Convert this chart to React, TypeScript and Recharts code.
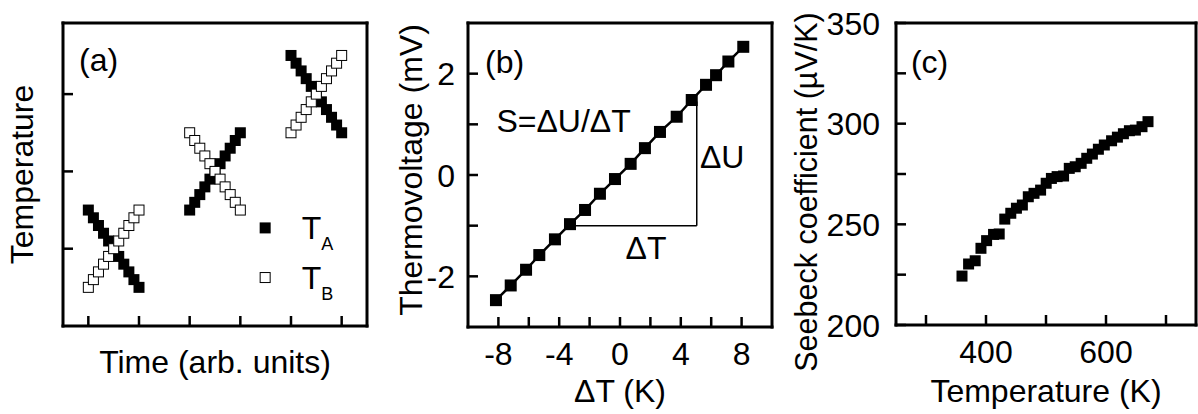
import React from 'react';
import { ScatterChart, Scatter, XAxis, YAxis, ReferenceLine, ReferenceDot } from 'recharts';

// (a) temperature of both sample ends during three gradient sweeps
const sweepTime1 = [0.5, 0.6, 0.7, 0.8, 0.9, 1.0, 1.1, 1.2, 1.3, 1.4, 1.5];
const sweepTime2 = [2.5, 2.6, 2.7, 2.8, 2.9, 3.0, 3.1, 3.2, 3.3, 3.4, 3.5];
const sweepTime3 = [4.5, 4.6, 4.7, 4.8, 4.9, 5.0, 5.1, 5.2, 5.3, 5.4, 5.5];
const tempA1 = [1.5, 1.4, 1.3, 1.2, 1.1, 1.0, 0.9, 0.8, 0.7, 0.6, 0.5];
const tempB1 = [0.5, 0.6, 0.7, 0.8, 0.9, 1.0, 1.1, 1.2, 1.3, 1.4, 1.5];
const tempA2 = [1.5, 1.6, 1.7, 1.8, 1.9, 2.0, 2.1, 2.2, 2.3, 2.4, 2.5];
const tempB2 = [2.5, 2.4, 2.3, 2.2, 2.1, 2.0, 1.9, 1.8, 1.7, 1.6, 1.5];
const tempA3 = [3.5, 3.4, 3.3, 3.2, 3.1, 3.0, 2.9, 2.8, 2.7, 2.6, 2.5];
const tempB3 = [2.5, 2.6, 2.7, 2.8, 2.9, 3.0, 3.1, 3.2, 3.3, 3.4, 3.5];
const timeTicks = [0.5, 1.5, 2.5, 3.5, 4.5, 5.5];
const tempTicks = [1, 2, 3];

// (b) thermovoltage vs temperature difference
const deltaT = [-8.16, -7.19, -6.18, -5.31, -4.28, -3.29, -2.3, -1.32, -0.33, 0.7, 1.64, 2.63, 3.73, 4.72, 5.66, 6.32, 7.13, 8.11];
const thermoU = [-2.47, -2.18, -1.87, -1.58, -1.27, -0.97, -0.69, -0.37, -0.08, 0.22, 0.53, 0.85, 1.15, 1.48, 1.78, 1.97, 2.24, 2.53];
const dtTicks = [-8, -6, -4, -2, 0, 2, 4, 6, 8];
const dtLabels = [-8, -4, 0, 4, 8];
const uTicks = [-2, -1, 0, 1, 2];
const uLabels = [-2, 0, 2];

// (c) Seebeck coefficient vs temperature
const seebeckT = [360, 371, 382, 391.6, 401, 412.6, 422, 431.3, 441.3, 450.7, 460.6, 470.5, 480, 491, 500.3, 509, 518.5, 529.3, 538.8, 548.7, 558.6, 567.9, 577.3, 587.3, 597.2, 609.3, 619, 629, 639, 649, 660, 670];
const seebeckS = [224.3, 230.3, 231.9, 238.1, 241.9, 245, 245.2, 252.6, 255.5, 258, 259.6, 263.7, 265.4, 267, 270.4, 272.8, 273.7, 274, 277.8, 278.6, 280.3, 282.8, 284.9, 287.3, 289.4, 291.5, 293.3, 295, 296.5, 296.8, 298.5, 301];
const tempKTicks = [300, 400, 500, 600, 700];
const tempKLabels = [400, 600];
const sTicks = [200, 225, 250, 275, 300, 325, 350];
const sLabels = [200, 250, 300, 350];

const FONT = '"Liberation Sans", Arial, Helvetica, sans-serif';
const TICK_LEN = 10;
const frameLine = { stroke: '#000', strokeWidth: 3, strokeLinecap: 'square' as const };

const pts = (xs: number[], ys: number[]) => xs.map((x, i) => ({ x, y: ys[i] }));

type Side = 'bottom' | 'top' | 'left' | 'right';

function makeTick(side: Side, labelled: number[] = [], gap = 0) {
  return function Tick(props: any) {
    const { x, y, payload } = props;
    const v = payload.value as number;
    const dx = side === 'left' ? TICK_LEN : side === 'right' ? -TICK_LEN : 0;
    const dy = side === 'bottom' ? -TICK_LEN : side === 'top' ? TICK_LEN : 0;
    const show = labelled.includes(v);
    return (
      <g>
        <line x1={x} y1={y} x2={x + dx} y2={y + dy} stroke="#000" strokeWidth={2.5} />
        {show && side === 'bottom' && (
          <text x={x} y={y + gap} textAnchor="middle" fontFamily={FONT} fontSize={32} fill="#000">
            {v}
          </text>
        )}
        {show && side === 'left' && (
          <text x={x - gap} y={y} dy="0.36em" textAnchor="end" fontFamily={FONT} fontSize={32} fill="#000">
            {v}
          </text>
        )}
      </g>
    );
  };
}

// axis boxes are 1px thick, so titles are measured from the plot edge
const xTitle = (text: string, gap: number) => (p: any) => {
  const vb = p.viewBox;
  return (
    <text x={vb.x + vb.width / 2} y={vb.y + gap} textAnchor="middle" fontFamily={FONT} fontSize={32} fill="#000">
      {text}
    </text>
  );
};

const yTitle = (text: string, gap: number, shift: number, size = 32) => (p: any) => {
  const vb = p.viewBox;
  const cx = vb.x + vb.width - gap;
  const cy = vb.y + vb.height / 2 + shift;
  return (
    <text x={cx} y={cy} transform={`rotate(-90 ${cx} ${cy})`} textAnchor="middle" fontFamily={FONT} fontSize={size} fill="#000">
      {text}
    </text>
  );
};

const annot = (text: string, anchor: 'start' | 'middle' = 'start') => (p: any) => (
  <text x={p.cx} y={p.cy} textAnchor={anchor} fontFamily={FONT} fontSize={32} fill="#000">
    {text}
  </text>
);

const legendItem = (sub: string, filled: boolean) => (p: any) => (
  <g>
    {filled ? (
      <rect x={p.cx - 5.5} y={p.cy - 5.5} width={11} height={11} fill="#000" />
    ) : (
      <rect x={p.cx - 5} y={p.cy - 5} width={10} height={10} fill="#fff" stroke="#000" strokeWidth={1} />
    )}
    <text x={p.cx + 36.5} y={p.cy + 11} fontFamily={FONT} fontSize={32} fill="#000">
      <tspan>T</tspan>
      <tspan dy={11} fontSize={18}>{sub}</tspan>
    </text>
  </g>
);

const filledSquare = (size: number) => (p: any) => (
  <rect x={p.cx - size / 2} y={p.cy - size / 2} width={size} height={size} fill="#000" />
);
const openSquare = (p: any) => (
  <rect x={p.cx - 5} y={p.cy - 5} width={10} height={10} fill="#fff" stroke="#000" strokeWidth={1} />
);

function frameAxes(
  xDomain: [number, number],
  yDomain: [number, number],
  xTicks: number[],
  yTicks: number[],
  xLabels: number[],
  yLabels: number[],
  xLabelGap: number,
  yLabelGap: number,
  xTitleEl: any,
  yTitleEl: any
) {
  return [
    <XAxis
      key="xb"
      type="number"
      dataKey="x"
      domain={xDomain}
      ticks={xTicks}
      interval={0}
      height={1}
      tickSize={0}
      tickMargin={0}
      tickLine={false}
      axisLine={frameLine}
      tick={makeTick('bottom', xLabels, xLabelGap)}
      label={xTitleEl}
    />,
    <XAxis
      key="xt"
      xAxisId="top"
      orientation="top"
      type="number"
      dataKey="x"
      domain={xDomain}
      ticks={xTicks}
      interval={0}
      height={1}
      tickSize={0}
      tickMargin={0}
      tickLine={false}
      axisLine={frameLine}
      tick={makeTick('top')}
    />,
    <YAxis
      key="yl"
      type="number"
      dataKey="y"
      domain={yDomain}
      ticks={yTicks}
      interval={0}
      width={1}
      tickSize={0}
      tickMargin={0}
      tickLine={false}
      axisLine={frameLine}
      tick={makeTick('left', yLabels, yLabelGap)}
      label={yTitleEl}
    />,
    <YAxis
      key="yr"
      yAxisId="right"
      orientation="right"
      type="number"
      dataKey="y"
      domain={yDomain}
      ticks={yTicks}
      interval={0}
      width={1}
      tickSize={0}
      tickMargin={0}
      tickLine={false}
      axisLine={frameLine}
      tick={makeTick('right')}
    />,
  ];
}

export default function App() {
  return (
    <div style={{ position: 'absolute', left: 0, top: 0, width: 1198, height: 414, background: '#fff' }}>
      {/* (a) */}
      <div style={{ position: 'absolute', left: 0, top: 0 }}>
        <ScatterChart width={390} height={414} margin={{ top: 22, right: 22, bottom: 87, left: 62 }}>
          {frameAxes([0, 6], [0, 3.92], timeTicks, tempTicks, [], [], 0, 0, xTitle('Time (arb. units)', 47), yTitle('Temperature', 29.7, 0))}
          <Scatter data={pts(sweepTime1, tempA1)} shape={filledSquare(11)} isAnimationActive={false} />
          <Scatter data={pts(sweepTime2, tempA2)} shape={filledSquare(11)} isAnimationActive={false} />
          <Scatter data={pts(sweepTime3, tempA3)} shape={filledSquare(11)} isAnimationActive={false} />
          <Scatter data={pts(sweepTime1, tempB1)} shape={openSquare} isAnimationActive={false} />
          <Scatter data={pts(sweepTime2, tempB2)} shape={openSquare} isAnimationActive={false} />
          <Scatter data={pts(sweepTime3, tempB3)} shape={openSquare} isAnimationActive={false} />
          <ReferenceDot x={0.316} y={3.3} shape={annot('(a)')} />
          <ReferenceDot x={3.99} y={1.269} shape={legendItem('A', true)} />
          <ReferenceDot x={3.99} y={0.627} shape={legendItem('B', false)} />
        </ScatterChart>
      </div>

      {/* (b) */}
      <div style={{ position: 'absolute', left: 390, top: 0 }}>
        <ScatterChart width={400} height={414} margin={{ top: 22, right: 17, bottom: 86, left: 77 }}>
          {frameAxes([-10, 10], [-3, 3], dtTicks, uTicks, dtLabels, uLabels, 38, 13, xTitle('ΔT (K)', 74.7), yTitle('Thermovoltage (mV)', 46.3, -5))}
          <ReferenceLine segment={[{ x: -3.29, y: -1 }, { x: 5.05, y: -1 }]} stroke="#000" strokeWidth={1.5} />
          <ReferenceLine segment={[{ x: 5.05, y: -1 }, { x: 5.05, y: 1.45 }]} stroke="#000" strokeWidth={1.5} />
          <Scatter
            data={pts(deltaT, thermoU)}
            line={{ stroke: '#000', strokeWidth: 2.5 }}
            lineType="joint"
            shape={filledSquare(12)}
            isAnimationActive={false}
          />
          <ReferenceDot x={-8.88} y={2.007} shape={annot('(b)')} />
          <ReferenceDot x={-8.13} y={0.843} shape={annot('S=ΔU/ΔT')} />
          <ReferenceDot x={5.26} y={0.132} shape={annot('ΔU')} />
          <ReferenceDot x={0.37} y={-1.664} shape={annot('ΔT')} />
        </ScatterChart>
      </div>

      {/* (c) */}
      <div style={{ position: 'absolute', left: 790, top: 0 }}>
        <ScatterChart width={408} height={414} margin={{ top: 22, right: 1, bottom: 88, left: 105 }}>
          {frameAxes([250, 750], [200, 350], tempKTicks, sTicks, tempKLabels, sLabels, 38.3, 16, xTitle('Temperature (K)', 76.7), yTitle('Seebeck coefficient (µV/K)', 79, 18, 30.5))}
          <Scatter data={pts(seebeckT, seebeckS)} shape={filledSquare(11)} isAnimationActive={false} />
          <ReferenceDot x={274.8} y={325} shape={annot('(c)')} />
        </ScatterChart>
      </div>
    </div>
  );
}
